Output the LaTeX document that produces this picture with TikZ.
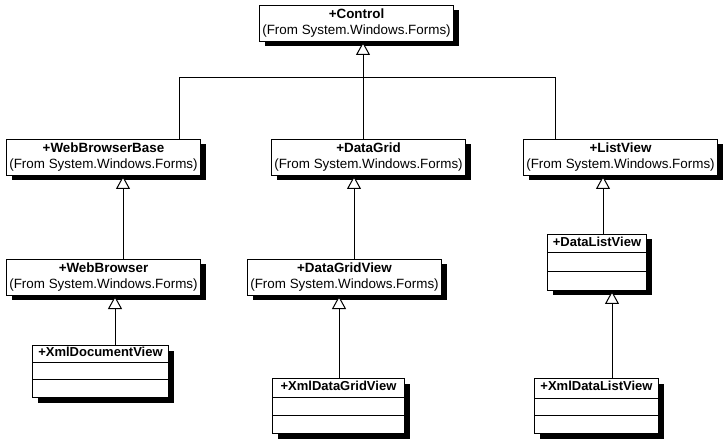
\documentclass[tikz,border=0pt]{standalone}
\usepackage{fontspec}
\setmainfont{Liberation Sans}
\usetikzlibrary{arrows.meta,shadows}
\newcommand{\bname}[1]{{\fontsize{13.4}{15}\selectfont\bfseries #1}}
\begin{document}
\begin{tikzpicture}[x=1pt,y=-1pt,
 box/.style={draw, fill=white, line width=1pt, general shadow={shadow xshift=5pt, shadow yshift=-5pt, fill=black}, inner sep=0pt, anchor=north west, align=center, font=\fontsize{13.4}{16}\selectfont},
 cname/.style={anchor=north, inner sep=0pt, font=\fontsize{13}{15}\selectfont\bfseries},
 sep/.style={line width=1pt},
 gen/.style={-{Triangle[open,fill=white,length=13pt,width=14pt,line width=1pt]}, line width=1pt}]
\useasboundingbox[fill=white] (0,0) rectangle (728,446);
% framework classes
\node[box, minimum width=194pt, minimum height=36pt] (ctrl) at (259,5) {\bname{+Control}\\(From System.Windows.Forms)};
\node[box, minimum width=194pt, minimum height=36pt] (wbb) at (6,139) {\bname{+WebBrowserBase}\\(From System.Windows.Forms)};
\node[box, minimum width=194pt, minimum height=36pt] (dg) at (271,139) {\bname{+DataGrid}\\(From System.Windows.Forms)};
\node[box, minimum width=194pt, minimum height=36pt] (lv) at (523,139) {\bname{+ListView}\\(From System.Windows.Forms)};
\node[box, minimum width=194pt, minimum height=36pt] (wb) at (6,259) {\bname{+WebBrowser}\\(From System.Windows.Forms)};
\node[box, minimum width=194pt, minimum height=36pt] (dgv) at (247,259) {\bname{+DataGridView}\\(From System.Windows.Forms)};
% own classes
\node[box, minimum width=136pt, minimum height=52pt] (xdv) at (32,345) {};
\node[cname] at ([yshift=-2pt]xdv.north) {+XmlDocumentView};
\draw[sep] ([yshift=-17pt]xdv.north west) -- ([yshift=-17pt]xdv.north east);
\draw[sep] ([yshift=-34pt]xdv.north west) -- ([yshift=-34pt]xdv.north east);
\node[box, minimum width=99pt, minimum height=56pt] (dlv) at (547,234) {};
\node[cname] at ([yshift=-3pt]dlv.north) {+DataListView};
\draw[sep] ([yshift=-19pt]dlv.north west) -- ([yshift=-19pt]dlv.north east);
\draw[sep] ([yshift=-38pt]dlv.north west) -- ([yshift=-38pt]dlv.north east);
\node[box, minimum width=132pt, minimum height=55pt] (xdgv) at (272,378) {};
\node[cname] at ([yshift=-3pt]xdgv.north) {+XmlDataGridView};
\draw[sep] ([yshift=-19pt]xdgv.north west) -- ([yshift=-19pt]xdgv.north east);
\draw[sep] ([yshift=-37pt]xdgv.north west) -- ([yshift=-37pt]xdgv.north east);
\node[box, minimum width=124pt, minimum height=55pt] (xdlv) at (534,378) {};
\node[cname] at ([yshift=-3pt]xdlv.north) {+XmlDataListView};
\draw[sep] ([yshift=-20pt]xdlv.north west) -- ([yshift=-20pt]xdlv.north east);
\draw[sep] ([yshift=-37pt]xdlv.north west) -- ([yshift=-37pt]xdlv.north east);
% generalizations
\draw[line width=1pt] (wbb.north -| 179,0) -- (179,78) -- (555,78) -- (lv.north -| 555,0);
\draw[gen] (dg.north -| 363,0) -- (ctrl.south -| 363,0);
\draw[gen] (wb.north -| 123,0) -- (wbb.south -| 123,0);
\draw[gen] (dgv.north -| 354,0) -- (dg.south -| 354,0);
\draw[gen] (dlv.north -| 603,0) -- (lv.south -| 603,0);
\draw[gen] (xdv.north -| 115,0) -- (wb.south -| 115,0);
\draw[gen] (xdgv.north -| 339,0) -- (dgv.south -| 339,0);
\draw[gen] (xdlv.north -| 612,0) -- (dlv.south -| 612,0);
\end{tikzpicture}
\end{document}
